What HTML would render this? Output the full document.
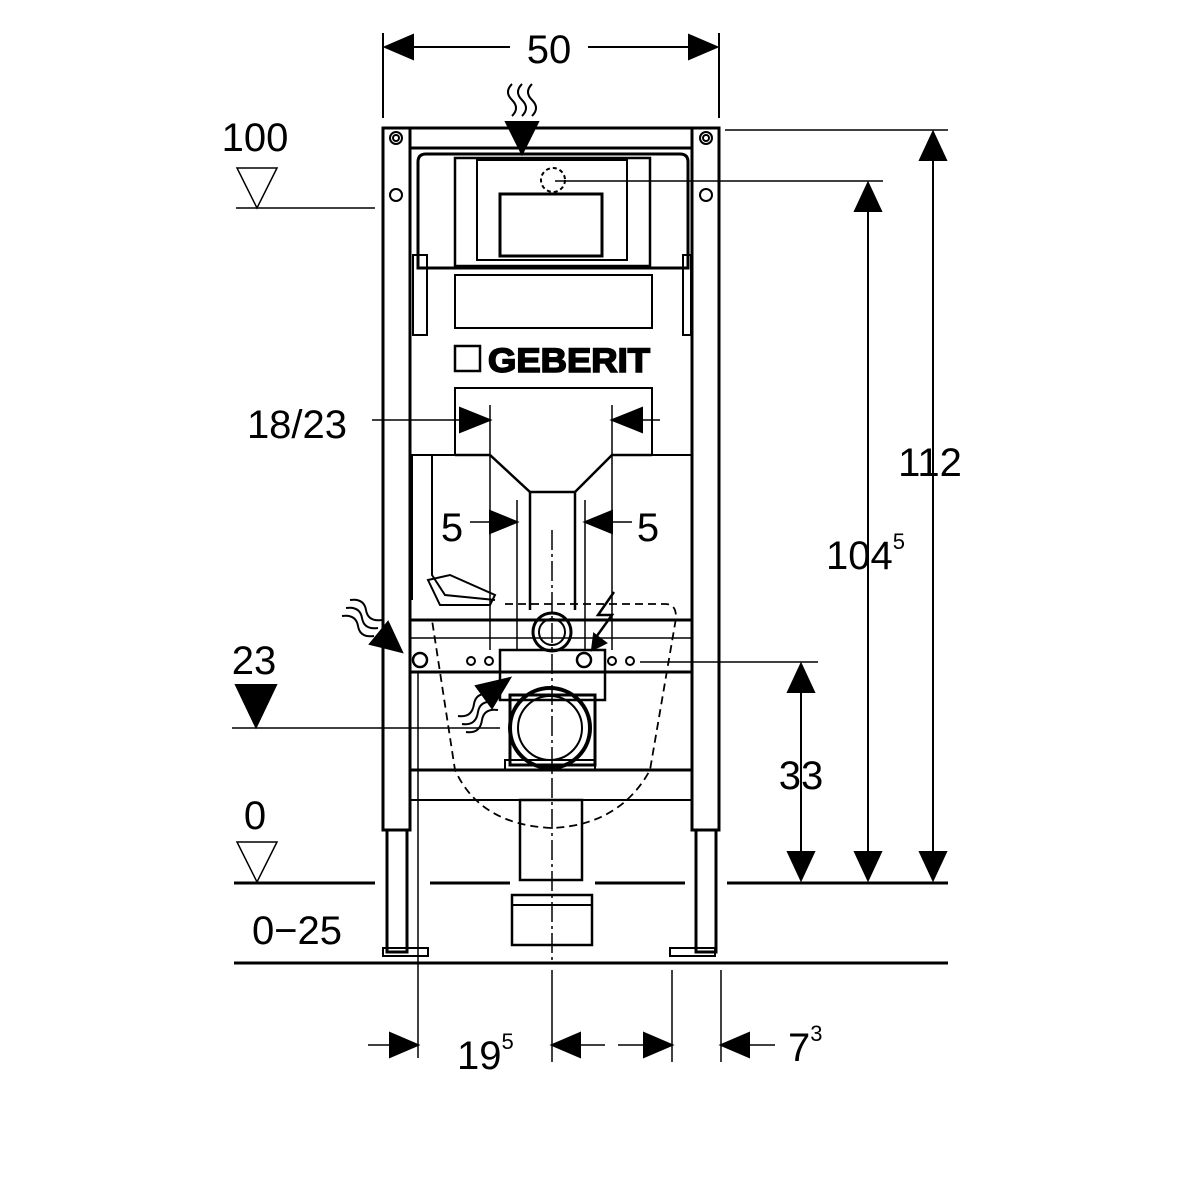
<!DOCTYPE html>
<html><head><meta charset="utf-8"><style>
html,body{margin:0;padding:0;background:#fff}
svg{display:block}
text{font-family:"Liberation Sans",sans-serif;fill:#000}
</style></head><body>
<svg width="1200" height="1200" viewBox="0 0 1200 1200" xmlns="http://www.w3.org/2000/svg">
<g stroke="#000" fill="none" stroke-width="2">
<line x1="383" y1="33" x2="383" y2="118"/>
<line x1="719" y1="33" x2="719" y2="118"/>
<line x1="385" y1="47" x2="510" y2="47"/><line x1="588" y1="47" x2="717" y2="47"/>
<path d="M385,47l28,-12v24z M717,47l-28,-12v24z" fill="#000"/>
<rect x="383" y="128" width="27" height="702" stroke-width="3"/>
<rect x="692" y="128" width="27" height="702" stroke-width="3"/>
<rect x="387" y="830" width="20" height="122" stroke-width="3"/>
<rect x="696" y="830" width="20" height="122" stroke-width="3"/>
<rect x="383" y="948" width="45" height="8" stroke-width="2"/>
<rect x="670" y="948" width="45" height="8" stroke-width="2"/>
<line x1="410" y1="148" x2="692" y2="148" stroke-width="3"/>
<line x1="383" y1="128" x2="719" y2="128" stroke-width="3"/>
<circle cx="396" cy="138" r="6"/><circle cx="396" cy="138" r="3"/>
<circle cx="706" cy="138" r="6"/><circle cx="706" cy="138" r="3"/>
<circle cx="396" cy="195" r="6"/><circle cx="706" cy="195" r="6"/>
<path d="M418,268 V162 q0,-8 8,-8 H680 q8,0 8,8 V268 H418z" stroke-width="3"/>
<rect x="455" y="158" width="195" height="108" stroke-width="2.5"/>
<rect x="477" y="160" width="150" height="100" stroke-width="2"/>
<rect x="500" y="194" width="102" height="62" stroke-width="3"/>
<circle cx="553" cy="180" r="12" stroke-dasharray="4 3"/>
<rect x="455" y="275" width="197" height="53" stroke-width="2"/>
<rect x="413" y="255" width="14" height="80"/>
<rect x="683" y="255" width="8" height="80"/>
<rect x="455" y="346" width="25" height="25" stroke-width="2.5"/>
<text x="488" y="372" font-size="34" font-weight="bold" fill="#fff" stroke="#000" stroke-width="1.6" textLength="162" lengthAdjust="spacingAndGlyphs">GEBERIT</text>
<path d="M410,455 H455 V388 H652 V455 H692" stroke-width="2"/>
<path d="M455,455 H490 L530,492 H575 L612,455 H652" stroke-width="2.5"/>
<path d="M530,492 V610 M575,492 V610" stroke-width="2.5"/>
<path d="M517,500 V650 M585,500 V650 M490,405 V650 M612,405 V650" stroke-width="1.5"/>
<line x1="552" y1="530" x2="552" y2="960" stroke-dasharray="20 4 3 4" stroke-width="1.5"/>
<line x1="410" y1="620" x2="692" y2="620" stroke-width="3"/>
<line x1="410" y1="638" x2="692" y2="638" stroke-width="1.5"/>
<line x1="410" y1="672" x2="692" y2="672" stroke-width="3"/>
<line x1="410" y1="770" x2="692" y2="770" stroke-width="3"/>
<line x1="410" y1="800" x2="692" y2="800" stroke-width="2"/>
<path d="M412,455 V600 M432,455 V575 L445,595 L495,600" stroke-width="2"/>
<path d="M428,580 L440,605 L490,605 L495,595 L450,575z" stroke-width="2"/>
<path d="M505,604 H665 q14,0 10,20 L650,770 Q620,825 552,828 Q480,825 455,770 L432,620" stroke-dasharray="8 5" stroke-width="1.8"/>
<rect x="500" y="650" width="105" height="50" stroke-width="2.5"/>
<circle cx="552" cy="632" r="19" stroke-width="3"/><circle cx="552" cy="632" r="13" stroke-width="2"/>
<circle cx="584" cy="660" r="7" stroke-width="2.5"/>
<circle cx="420" cy="660" r="7" stroke-width="2.5"/>
<circle cx="471" cy="661" r="4"/><circle cx="489" cy="661" r="4"/>
<circle cx="612" cy="661" r="4"/><circle cx="630" cy="661" r="4"/>
<path d="M510,695 H595 V765 H510z" stroke-width="3"/>
<circle cx="550" cy="728" r="40" stroke-width="4"/><circle cx="550" cy="728" r="32" stroke-width="2"/>
<rect x="505" y="760" width="90" height="10" stroke-width="2"/>
<rect x="520" y="800" width="62" height="80" stroke-width="2.5"/>
<rect x="512" y="895" width="80" height="50" stroke-width="2.5"/>
<line x1="512" y1="905" x2="592" y2="905"/>
<line x1="236" y1="208" x2="375" y2="208" stroke-width="1.5"/>
<line x1="555" y1="181" x2="883" y2="181" stroke-width="1.5"/>
<line x1="725" y1="130" x2="948" y2="130" stroke-width="1.5"/>
<line x1="232" y1="728" x2="500" y2="728" stroke-width="1.5"/>
<line x1="640" y1="662" x2="818" y2="662" stroke-width="1.5"/>
<line x1="234" y1="883" x2="375" y2="883" stroke-width="3"/>
<line x1="430" y1="883" x2="510" y2="883" stroke-width="3"/>
<line x1="595" y1="883" x2="685" y2="883" stroke-width="3"/>
<line x1="727" y1="883" x2="948" y2="883" stroke-width="3"/>
<line x1="234" y1="963" x2="948" y2="963" stroke-width="3"/>
<line x1="418" y1="672" x2="418" y2="1058" stroke-width="1.5"/>
<line x1="552" y1="970" x2="552" y2="1062" stroke-width="1.5"/>
<line x1="672" y1="970" x2="672" y2="1062" stroke-width="1.5"/>
<line x1="721" y1="970" x2="721" y2="1062" stroke-width="1.5"/>
<line x1="933" y1="132" x2="933" y2="880"/>
<path d="M933,132l-13,28h26z M933,880l-13,-28h26z" fill="#000"/>
<line x1="868" y1="183" x2="868" y2="880"/>
<path d="M868,183l-13,28h26z M868,880l-13,-28h26z" fill="#000"/>
<line x1="801" y1="664" x2="801" y2="880"/>
<path d="M801,664l-13,28h26z M801,880l-13,-28h26z" fill="#000"/>
<line x1="372" y1="420" x2="460" y2="420" stroke-width="1.5"/>
<path d="M490,420l-30,-12v24z" fill="#000"/>
<line x1="642" y1="420" x2="660" y2="420" stroke-width="1.5"/>
<path d="M612,420l30,-12v24z" fill="#000"/>
<line x1="470" y1="522" x2="490" y2="522" stroke-width="1.5"/>
<path d="M517,522l-27,-11v22z" fill="#000"/>
<line x1="612" y1="522" x2="632" y2="522" stroke-width="1.5"/>
<path d="M585,522l27,-11v22z" fill="#000"/>
<line x1="368" y1="1045" x2="390" y2="1045" stroke-width="1.5"/>
<path d="M418,1045l-28,-12v24z" fill="#000"/>
<line x1="580" y1="1045" x2="605" y2="1045" stroke-width="1.5"/>
<line x1="618" y1="1045" x2="645" y2="1045" stroke-width="1.5"/>
<path d="M552,1045l28,-12v24z M672,1045l-28,-12v24z" fill="#000"/>
<line x1="749" y1="1045" x2="775" y2="1045" stroke-width="1.5"/>
<path d="M721,1045l28,-12v24z" fill="#000"/>
<path d="M237,168 H277 L257,208z" stroke-width="1.5"/>
<path d="M236,685 H276 L256,727z" fill="#000"/>
<path d="M237,842 H277 L257,882z" stroke-width="1.5"/>
<path d="M522,154 l-16,-32 h32z" fill="#000"/>
<path d="M512,84 q-8,8 0,16 q8,8 0,16 M522,84 q-8,8 0,16 q8,8 0,16 M532,84 q-8,8 0,16 q8,8 0,16" stroke-width="2"/>
<path d="M402,652 l-32,-8 l18,-22z" fill="#000"/>
<path d="M342,616 q14,-2 16,10 q2,12 16,10 M346,608 q14,-2 16,10 q2,12 16,10 M350,600 q14,-2 16,10 q2,12 16,10" stroke-width="2"/>
<path d="M510,678 l-34,8 l16,22z" fill="#000"/>
<path d="M462,724 q14,2 16,-12 q2,-12 16,-10 M458,716 q14,2 16,-12 q2,-12 16,-10 M466,732 q14,2 16,-12 q2,-12 16,-10" stroke-width="2"/>
<path d="M614,592 L598,615 L612,615 L594,640" stroke-width="2.5"/>
<path d="M592,650 l2,-16 l12,9z" fill="#000"/>
</g>
<text x="549" y="63" font-size="40" text-anchor="middle">50</text>
<text x="255" y="151" font-size="40" text-anchor="middle">100</text>
<text x="930" y="476" font-size="40" text-anchor="middle">112</text>
<text x="826" y="569" font-size="40">104<tspan font-size="22" dy="-20">5</tspan></text>
<text x="297" y="438" font-size="40" text-anchor="middle">18/23</text>
<text x="452" y="541" font-size="40" text-anchor="middle">5</text>
<text x="648" y="541" font-size="40" text-anchor="middle">5</text>
<text x="254" y="674" font-size="40" text-anchor="middle">23</text>
<text x="801" y="789" font-size="40" text-anchor="middle">33</text>
<text x="255" y="829" font-size="40" text-anchor="middle">0</text>
<text x="297" y="944" font-size="40" text-anchor="middle">0−25</text>
<text x="457" y="1069" font-size="40">19<tspan font-size="22" dy="-20">5</tspan></text>
<text x="788" y="1061" font-size="40">7<tspan font-size="22" dy="-20">3</tspan></text>
</svg>
</body></html>
